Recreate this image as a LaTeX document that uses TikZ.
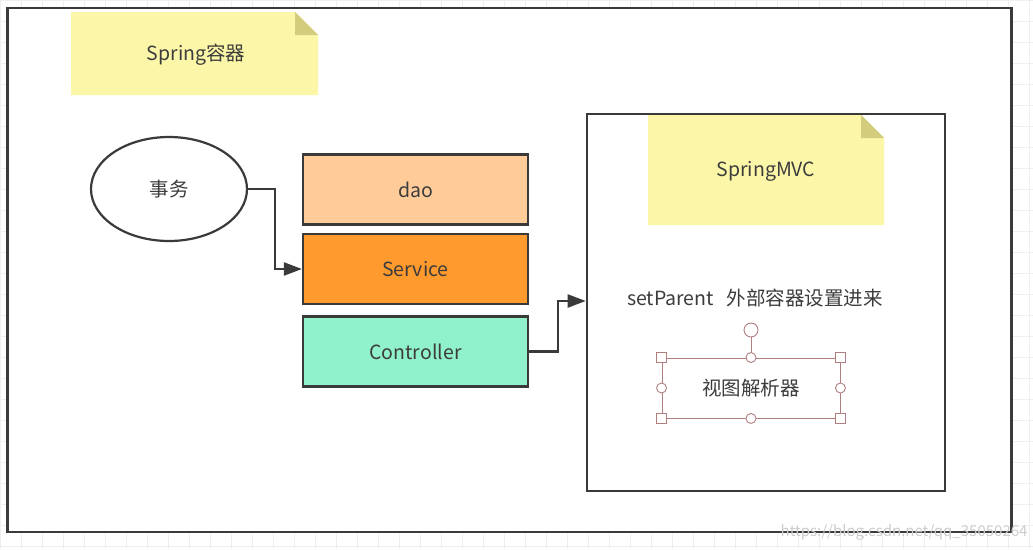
\documentclass[tikz,border=0pt]{standalone}
\usepackage{fontspec}
\setmainfont{Noto Sans CJK SC}
\usetikzlibrary{shapes.geometric,arrows.meta}
\definecolor{notefill}{HTML}{FCF7A8}
\definecolor{notefold}{HTML}{D3CC7C}
\definecolor{daofill}{HTML}{FFCC99}
\definecolor{svcfill}{HTML}{FF9A2E}
\definecolor{ctlfill}{HTML}{90F2CA}
\definecolor{frame}{HTML}{3A3A3A}
\definecolor{txt}{HTML}{3C3C3C}
\definecolor{sel}{HTML}{B07F7F}
\definecolor{gridc}{HTML}{EFEFEF}
\tikzset{
  x=1pt,y=-1pt,
  lbl/.style={font=\fontsize{19.5}{23}\selectfont, text=txt},
  layer/.style={draw=frame, line width=2.2pt, minimum width=225pt, minimum height=70pt, lbl},
  conn/.style={draw=frame, line width=2.2pt, -{Triangle[length=18pt,width=13pt]}},
  handlesq/.style={draw=sel, fill=white, line width=0.9pt, minimum size=10pt, inner sep=0pt, rectangle},
  handlecir/.style={draw=sel, fill=white, line width=0.9pt, minimum size=10pt, inner sep=0pt, circle},
}
\begin{document}
\begin{tikzpicture}
\useasboundingbox (0,0) rectangle (1033,549);
% faint grid
\foreach \gx in {0,21,...,1033} \draw[gridc, line width=0.6pt] (\gx,0) -- (\gx,549);
\foreach \gy in {0,21,...,549} \draw[gridc, line width=0.6pt] (0,\gy) -- (1033,\gy);
% outer frame
\node[draw=frame, fill=white, line width=2.6pt, minimum width=1004pt, minimum height=524pt, inner sep=0pt] (outer) at (509.5,270) {};
% Spring note
\fill[notefill] (71,12) -- (295,12) -- (318,35) -- (318,95) -- (71,95) -- cycle;
\fill[notefold] (295,12) -- (318,35) -- (295,35) -- cycle;
\node[lbl] (springnote) at (196,55) {Spring容器};
% ellipse
\node[ellipse, draw=frame, line width=2.2pt, minimum width=156pt, minimum height=104pt, lbl] (tx) at (169,189) {事务};
% layers
\node[layer, fill=daofill] (dao) at (415.5,189.5) {dao};
\node[layer, fill=svcfill] (svc) at (415.5,269) {Service};
\node[layer, fill=ctlfill] (ctl) at (415.5,351.5) {Controller};
% SpringMVC box
\node[draw=frame, line width=2.6pt, minimum width=358pt, minimum height=377pt, inner sep=0pt] (mvc) at (766,302.5) {};
\fill[notefill] (648,115) -- (861,115) -- (884,138) -- (884,225) -- (648,225) -- cycle;
\fill[notefold] (861,115) -- (884,138) -- (861,138) -- cycle;
\node[lbl] (mvcnote) at (766,171) {SpringMVC};
\node[lbl] (setp) at (755,298) {setParent\ \ \ 外部容器设置进来};
% selected view resolver
\node[draw=sel, line width=0.9pt, minimum width=178pt, minimum height=60pt, inner sep=0pt, lbl] (vr) at (751,388) {视图解析器};
\node[handlecir, minimum size=14pt] (rot) at (751,330) {};
\draw[sel, line width=0.9pt] (rot) -- (vr.north);
\node[handlesq] (h1) at (vr.north west) {};
\node[handlesq] (h2) at (vr.north east) {};
\node[handlesq] (h3) at (vr.south west) {};
\node[handlesq] (h4) at (vr.south east) {};
\node[handlecir] (h5) at (vr.north) {};
\node[handlecir] (h6) at (vr.south) {};
\node[handlecir] (h7) at (vr.west) {};
\node[handlecir] (h8) at (vr.east) {};
% connectors
\draw[conn] (tx.east) -- (275,189) -- (275,269) -- (svc.west);
\draw[conn] (ctl.east) -- (558,351.5) -- (558,301) -- (mvc.west |- 0,301);
% watermark
\node[font=\fontsize{15}{18}\selectfont, text=gray!40, anchor=east] (wm) at (1031,532) {https://blog.csdn.net/qq\_35050264};
\end{tikzpicture}
\end{document}
